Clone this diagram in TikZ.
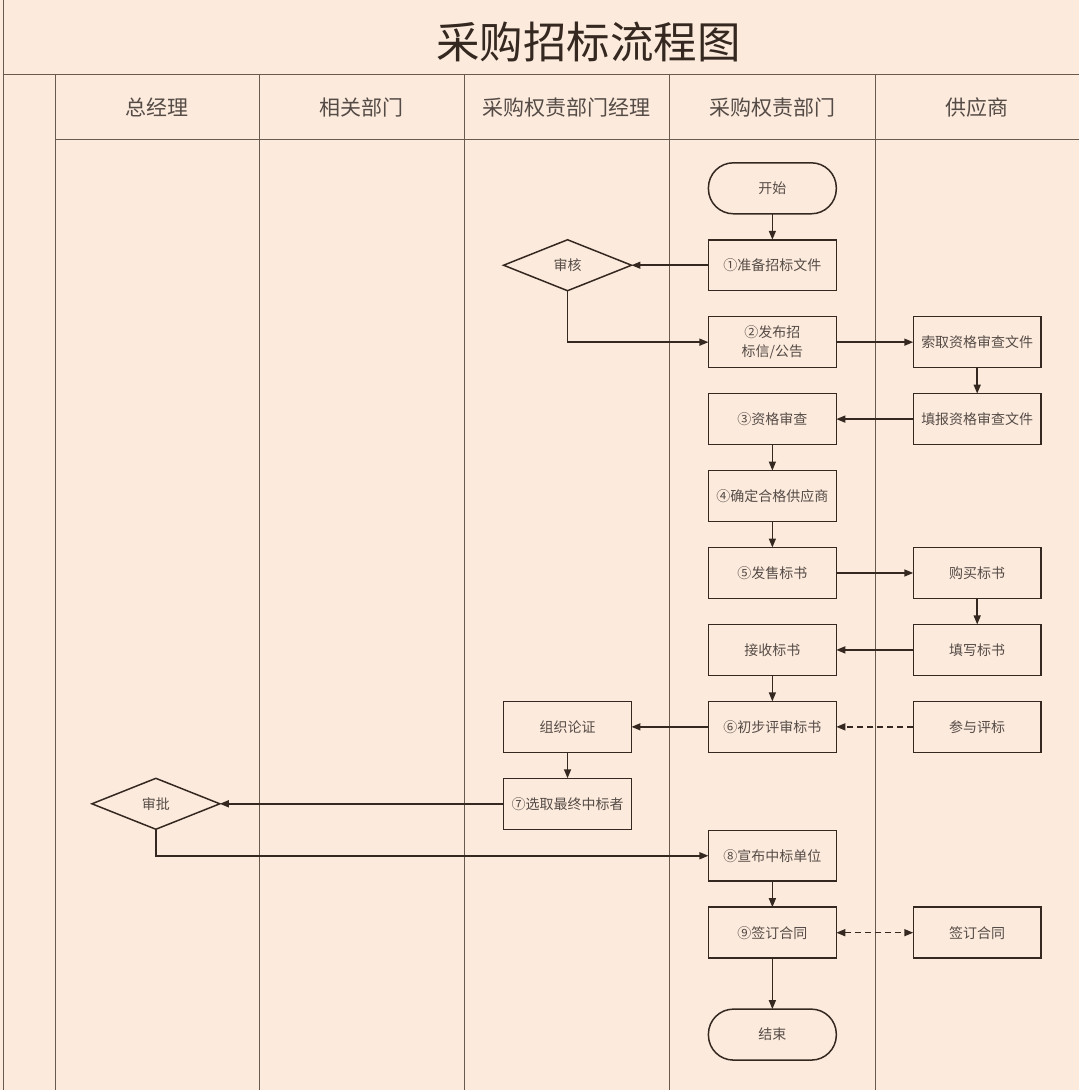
\documentclass[tikz,border=0pt]{standalone}
\usepackage{fontspec}
\setmainfont{Noto Sans CJK SC}
\usetikzlibrary{positioning, arrows.meta, shapes.geometric}
\definecolor{paper}{RGB}{252,235,221}
\definecolor{ink}{RGB}{52,40,32}
\definecolor{lane}{RGB}{105,90,80}
\definecolor{txt}{RGB}{85,75,70}

\begin{document}
\begin{tikzpicture}[x=1pt, y=-1pt, >={Triangle[length=9pt,width=7pt]},
    node distance=26pt,
    box/.style={draw=ink, line width=1.5pt, minimum width=128pt, minimum height=51pt,
      inner sep=2pt, outer sep=0pt, text=txt, align=center, font=\fontsize{14}{19}\selectfont},
    term/.style={box, rounded corners=25pt},
    check/.style={box, diamond, aspect=2.5, inner sep=0pt},
    flow/.style={->, draw=ink, line width=1.5pt},
    reply/.style={flow, dash pattern=on 6pt off 4pt}]
  % page and swimlanes
  \fill[paper] (0,0) rectangle (1080,1090);
  \begin{scope}[draw=lane, line width=0.9pt]
    \draw (3,0) -- (3,1090);
    \draw (3,74) -- (1080,74);
    \draw (55,139) -- (1080,139);
    \foreach \x in {55,260,465,670,876}
      \draw (\x,74) -- (\x,1090);
  \end{scope}
  \node[text=ink, font=\fontsize{43.5}{50}\selectfont] (title) at (589,42) {采购招标流程图};
  \foreach \x/\name in {157/总经理, 362/相关部门, 567/采购权责部门经理, 773/采购权责部门, 978/供应商}
    \node[text=txt, font=\fontsize{21}{26}\selectfont] at (\x,107) {\name};

  % main column
  \node[term] (start) at (773,188) {开始};
  \node[box] (prep) at (773,265) {①准备招标文件};
  \node[box, below=of prep] (issue) {②发布招\\标信/公告};
  \node[box, below=of issue] (qual) {③资格审查};
  \node[box, below=of qual] (confirm) {④确定合格供应商};
  \node[box, below=of confirm] (sell) {⑤发售标书};
  \node[box, below=of sell] (receive) {接收标书};
  \node[box, below=of receive] (review) {⑥初步评审标书};
  \node[box] (announce) at (773,856) {⑧宣布中标单位};
  \node[box, below=of announce] (sign) {⑨签订合同};
  \node[term] (finish) at (773,1035) {结束};

  % supplier
  \node[box, right=77pt of issue] (fetch) {索取资格审查文件};
  \node[box, right=77pt of qual] (fillq) {填报资格审查文件};
  \node[box, right=77pt of sell] (buy) {购买标书};
  \node[box, right=77pt of receive] (write) {填写标书};
  \node[box, right=77pt of review] (join) {参与评标};
  \node[box, right=77pt of sign] (signs) {签订合同};

  % managers
  \node[check, left=77pt of prep] (audit) {审核};
  \node[box, left=77pt of review] (argue) {组织论证};
  \node[box, below=of argue] (pick) {⑦选取最终中标者};
  \node[check] (approve) at (156,804) {审批};

  \draw[flow] (start) -- (prep);
  \draw[flow] (prep) -- (audit);
  \draw[flow] (audit.south) |- (issue);
  \draw[flow] (issue) -- (fetch);
  \draw[flow] (fetch) -- (fillq);
  \draw[flow] (fillq) -- (qual);
  \draw[flow] (qual) -- (confirm);
  \draw[flow] (confirm) -- (sell);
  \draw[flow] (sell) -- (buy);
  \draw[flow] (buy) -- (write);
  \draw[flow] (write) -- (receive);
  \draw[flow] (receive) -- (review);
  \draw[reply] (join) -- (review);
  \draw[flow] (review) -- (argue);
  \draw[flow] (argue) -- (pick);
  \draw[flow] (pick) -- (approve);
  \draw[flow] (approve.south) |- (announce);
  \draw[flow] (announce) -- (sign);
  \draw[reply, <->] (sign) -- (signs);
  \draw[flow] (sign) -- (finish);
\end{tikzpicture}
\end{document}
